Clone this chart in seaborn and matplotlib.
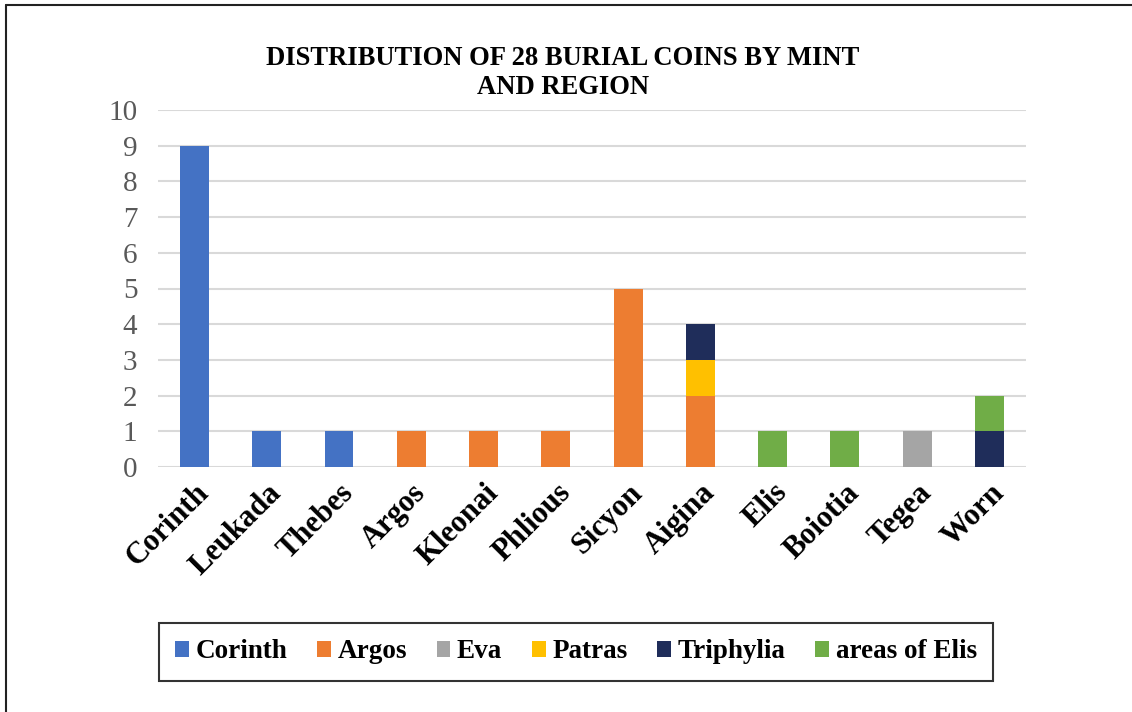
import numpy as np
import pandas as pd
import matplotlib
matplotlib.use("Agg")
import matplotlib.pyplot as plt
from matplotlib.patches import Patch
from matplotlib.lines import Line2D
import seaborn as sns

categories = ["Corinth", "Leukada", "Thebes", "Argos", "Kleonai", "Phlious",
              "Sicyon", "Aigina", "Elis", "Boiotia", "Tegea", "Worn"]
corinth   = [9, 1, 1, 0, 0, 0, 0, 0, 0, 0, 0, 0]
argos     = [0, 0, 0, 1, 1, 1, 5, 2, 0, 0, 0, 0]
eva       = [0, 0, 0, 0, 0, 0, 0, 0, 0, 0, 1, 0]
patras    = [0, 0, 0, 0, 0, 0, 0, 1, 0, 0, 0, 0]
triphylia = [0, 0, 0, 0, 0, 0, 0, 1, 0, 0, 0, 1]
elis      = [0, 0, 0, 0, 0, 0, 0, 0, 1, 1, 0, 1]
series_names = ["Corinth", "Argos", "Eva", "Patras", "Triphylia", "areas of Elis"]
colors = ["#4472C4", "#ED7D31", "#A5A5A5", "#FFC000", "#1F2D5A", "#70AD47"]
title = "DISTRIBUTION OF 28 BURIAL COINS BY MINT\nAND REGION"

sns.set_theme(style="white")
plt.rcParams["font.family"] = ["Liberation Serif", "DejaVu Serif"]
plt.rcParams["text.color"] = "black"

fig = plt.figure(figsize=(11.32, 7.12), dpi=100)
ax = fig.add_axes([158.3/1132, 1-467/712, (1025.6-158.3)/1132, (467-110)/712])

layers = [corinth, argos, eva, patras, triphylia, elis]
cum = np.cumsum(np.array(layers), axis=0)
# draw from top layer down so lower segments overlay
for i in range(len(layers)-1, -1, -1):
    df = pd.DataFrame({"cat": categories, "val": cum[i]})
    sns.barplot(data=df, x="cat", y="val", color=colors[i], saturation=1,
                width=0.40, ax=ax, linewidth=0, order=categories)

ax.set_ylim(0, 10)
ax.set_yticks(range(0, 11))
ax.set_xlim(-0.5, len(categories)-0.5)
ax.yaxis.grid(True, color="#D9D9D9", linewidth=1.5)
ax.set_axisbelow(True)
for s in ax.spines.values():
    s.set_visible(False)
ax.set_xlabel("")
ax.set_ylabel("")
ax.tick_params(axis="y", length=0, labelsize=21, labelcolor="#595959", pad=15)
ax.tick_params(axis="x", length=0, pad=8)
ax.set_xticks(range(len(categories)))
ax.set_xticklabels(categories, rotation=45, ha="right", rotation_mode="anchor",
                   fontsize=22, fontweight="bold", color="black")

fig.text(0.497, 1-73/712, title, ha="center", va="center", fontsize=19.2,
         fontweight="bold", linespacing=1.25, color="black")

handles = [Patch(facecolor=c, edgecolor="none", label=n) for c, n in zip(colors, series_names)]
leg = fig.legend(handles=handles, loc="center", bbox_to_anchor=(576/1132, 1-652/712),
                 ncol=6, frameon=True, fancybox=False, edgecolor="black",
                 prop={"size": 19.5, "weight": "bold"}, handlelength=0.5, handleheight=0.5,
                 handletextpad=0.25, columnspacing=1.1, borderpad=0.6)
leg.get_frame().set_linewidth(1.5)
for t in leg.get_texts():
    t.set_color("black")

fig.add_artist(Line2D([6/1132, 6/1132], [0, 1-5/712], color="#222222", linewidth=1.5))
fig.add_artist(Line2D([6/1132, 1], [1-5/712, 1-5/712], color="#222222", linewidth=1.5))

fig.savefig("out.png", dpi=100, facecolor="white")
